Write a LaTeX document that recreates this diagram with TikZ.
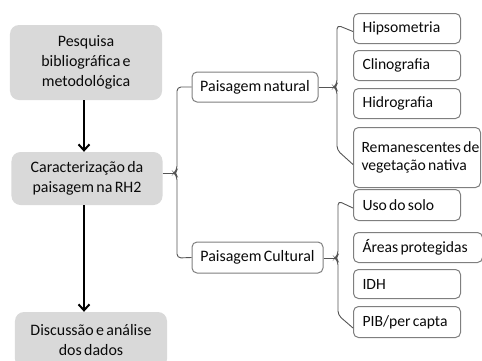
\documentclass[tikz,border=0pt]{standalone}
\usepackage{fontspec}
\setmainfont{Carlito}[WordSpace=0.65]
\usetikzlibrary{arrows.meta,calc}
\definecolor{boxgray}{HTML}{D9D9D9}
\definecolor{edgegray}{HTML}{7F7F7F}
\definecolor{linegray}{HTML}{555555}
\definecolor{txt}{HTML}{0A0A0A}
\newcommand{\lft}[2]{\makebox[#1][l]{#2}}
\begin{document}
\begin{tikzpicture}[x=1bp,y=-1bp,
  every node/.style={font=\fontsize{16}{20}\selectfont, text=txt},
  mainbox/.style={fill=boxgray, rounded corners=9bp, align=center, inner sep=0pt},
  midbox/.style={draw=edgegray, line width=1bp, fill=white, rounded corners=5bp, align=center, inner sep=0pt},
  leafbox/.style={draw=edgegray, line width=1bp, fill=white, rounded corners=5bp, align=left, anchor=north west, inner xsep=9bp, inner ysep=0pt, minimum height=30bp, font=\fontsize{15.7}{18.5}\selectfont},
  flow/.style={line width=2bp, black, -{Straight Barb[length=6bp,width=11bp,line width=2bp]}},
  brace/.style={draw=linegray, line width=0.9bp, rounded corners=4bp}
]
\useasboundingbox (0,0) rectangle (482,360);

% left column
\node[mainbox, minimum width=152bp, minimum height=75bp] (b1) at (86,62.5) {Pesquisa\\bibliográfica e\\metodológica};
\node[mainbox, minimum width=151bp, minimum height=53bp] (b2) at (87,178.5) {Caracterização da\\paisagem na RH2};
\node[mainbox, minimum width=152bp, minimum height=56bp] (b3) at (91,340) {Discussão e análise\\dos dados};

\draw[flow] ([xshift=-2bp]b1.south) -- ([xshift=-2bp]b1.south |- b2.north);
\draw[flow] ([xshift=-3bp]b2.south) -- ([xshift=-3bp]b2.south |- b3.north);

% middle column
\node[midbox, minimum width=126bp, minimum height=30bp] (pn) at (255,87) {Paisagem natural};
\node[midbox, minimum width=131bp, minimum height=31bp] (pc) at (257.5,257.5) {Paisagem Cultural};

% right column: natural
\node[leafbox] (hip) at (353,13) {\lft{89bp}{Hipsometria}};
\node[leafbox] (cli) at (353,50) {\lft{89bp}{Clinografia}};
\node[leafbox] (hid) at (353,88) {\lft{89bp}{Hidrografia}};
\node[leafbox, inner xsep=8bp, minimum height=60bp] (rem) at (353,127) {\lft{111bp}{Remanescentes de}\\\lft{111bp}{vegetação nativa}};

% right column: cultural
\node[leafbox, minimum height=31bp] (uso) at (353,189) {\lft{89bp}{Uso do solo}};
\node[leafbox] (are) at (353,232) {\lft{111bp}{Áreas protegidas}};
\node[leafbox, minimum height=29bp] (idh) at (353,269) {\lft{89bp}{IDH}};
\node[leafbox, minimum height=31bp] (pib) at (353,306) {\lft{89bp}{PIB/per capta}};

% braces
\coordinate (t0) at (174,173);
\draw[brace] (b2.east |- t0) -- (t0);
\draw[brace] (pn.west) -- (177,87) -- (177,170) -- (t0) -- (177,176) -- (177,258) -- (pc.west);

\coordinate (t1) at (334,87);
\draw[brace] (pn.east) -- (t1);
\draw[brace] ([yshift=-3bp]hip.west) -- (337,25) -- (337,84) -- (t1) -- (337,90) -- (337,150) -- ([yshift=-7bp]rem.west);

\coordinate (t2) at (335,258);
\draw[brace] (pc.east |- t2) -- (t2);
\draw[brace] ([yshift=-3bp]uso.west) -- (338,201) -- (338,255) -- (t2) -- (338,261) -- (338,315) -- ([yshift=-6bp]pib.west);
\end{tikzpicture}
\end{document}
